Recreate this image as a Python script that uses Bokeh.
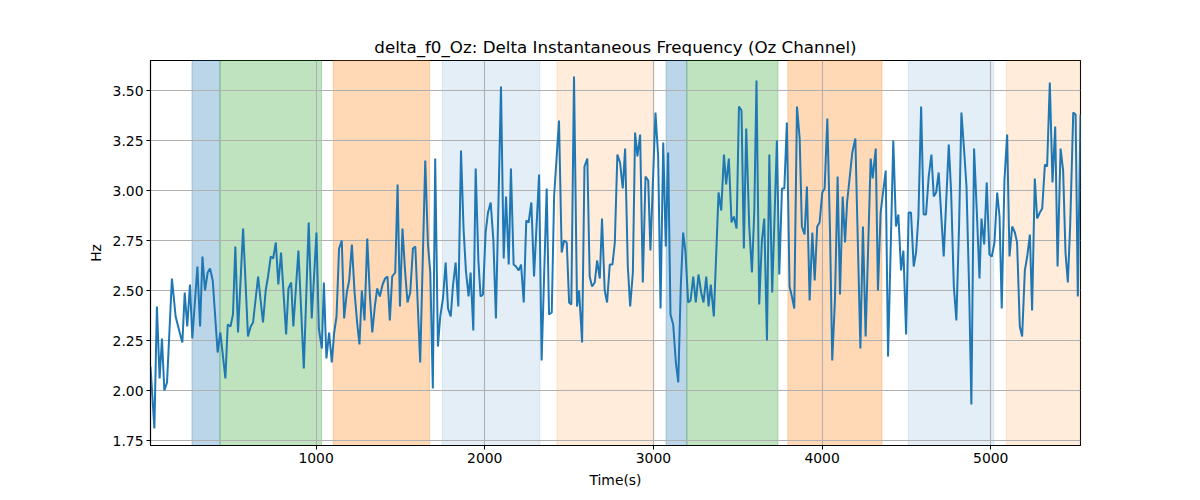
from bokeh.plotting import figure
from bokeh.models import BoxAnnotation, Range1d, FixedTicker, PrintfTickFormatter
from bokeh.embed import file_html
from bokeh.resources import INLINE

# ---- data ----
time_a = [18, 41, 56, 72, 86, 100, 116, 145, 167, 191, 207, 221, 236, 252, 266, 296, 312, 326, 341, 357,
          371, 387, 416, 432, 462, 476, 492, 507, 521, 537, 567, 596, 612, 626, 656, 685, 701, 715, 731, 745,
          761, 776, 792, 822, 836, 852, 865, 895, 927, 956]
hz_a = [2.12, 1.81, 2.42, 2.06, 2.26, 2.00, 2.04, 2.56, 2.37, 2.29, 2.24, 2.49, 2.32, 2.53, 2.26, 2.62, 2.32, 2.67, 2.50, 2.59,
        2.61, 2.55, 2.19, 2.29, 2.06, 2.33, 2.32, 2.38, 2.72, 2.29, 2.81, 2.27, 2.32, 2.34, 2.57, 2.34, 2.50, 2.57, 2.67, 2.66,
        2.74, 2.53, 2.69, 2.28, 2.51, 2.54, 2.32, 2.70, 2.11, 2.84]

time_b = [974, 1002, 1016, 1034, 1046, 1061, 1077, 1093, 1107, 1121, 1136, 1152, 1166, 1182, 1196, 1212, 1228, 1243, 1257, 1271,
          1287, 1303, 1319, 1333, 1348, 1362, 1378, 1394, 1409, 1423, 1437, 1451, 1469, 1483, 1497, 1512, 1528, 1542, 1558, 1574,
          1588, 1617, 1647, 1663, 1677, 1692, 1706, 1722, 1736, 1752, 1768, 1782, 1798, 1811, 1827, 1843, 1859, 1874, 1888, 1904]
hz_b = [2.36, 2.79, 2.31, 2.21, 2.54, 2.16, 2.29, 2.14, 2.29, 2.37, 2.71, 2.75, 2.36, 2.49, 2.55, 2.73, 2.49, 2.34, 2.23, 2.50,
        2.35, 2.76, 2.47, 2.29, 2.42, 2.51, 2.47, 2.53, 2.56, 2.57, 2.35, 2.57, 2.59, 3.03, 2.42, 2.81, 2.59, 2.44, 2.49, 2.71,
        2.72, 2.14, 3.15, 2.73, 2.59, 2.01, 3.16, 2.22, 2.37, 2.46, 2.64, 2.41, 2.37, 2.52, 2.64, 2.42, 3.20, 2.81, 2.60, 2.47]

time_c = [1916, 1932, 1946, 1962, 1975, 1989, 2005, 2019, 2035, 2051, 2066, 2080, 2096, 2112, 2126, 2142, 2155, 2171, 2185, 2201,
          2215, 2231, 2246, 2260, 2276, 2292, 2322, 2337, 2367, 2381, 2397, 2411, 2440, 2456, 2470, 2486, 2500, 2513, 2529, 2547,
          2559, 2577, 2591, 2608, 2622, 2636, 2652, 2666, 2682, 2695, 2711, 2725, 2741, 2757, 2771, 2786, 2802, 2818, 2832, 2848, 2862]
hz_c = [2.59, 2.30, 3.11, 2.65, 2.47, 2.48, 2.79, 2.89, 2.94, 2.75, 2.36, 2.90, 3.52, 2.66, 2.97, 2.63, 3.11, 2.63, 2.62, 2.60,
        2.63, 2.44, 2.85, 2.84, 2.94, 2.57, 3.08, 2.15, 3.01, 2.38, 2.39, 2.97, 3.35, 2.69, 2.75, 2.74, 2.44, 2.43, 3.57, 2.42,
        2.50, 2.24, 3.12, 3.16, 2.57, 2.52, 2.54, 2.65, 2.56, 2.86, 2.50, 2.44, 2.63, 2.63, 2.74, 3.18, 3.14, 3.01, 3.21, 2.62, 2.42]

time_d = [2878, 2891, 2905, 2921, 2937, 2953, 2969, 2982, 3012, 3028, 3042, 3058, 3073, 3087, 3101, 3117, 3133, 3147, 3162, 3176,
          3190, 3206, 3220, 3236, 3251, 3267, 3283, 3297, 3313, 3327, 3340, 3358, 3386, 3402, 3418, 3431, 3447, 3463, 3477, 3493,
          3507, 3522, 3536, 3550, 3568, 3584, 3598, 3611, 3627, 3643, 3657, 3673, 3687, 3704, 3732, 3746, 3762, 3776, 3791, 3807]
hz_d = [2.59, 3.29, 3.17, 3.28, 2.54, 3.07, 3.05, 2.70, 3.39, 3.17, 2.41, 3.24, 2.72, 3.19, 2.38, 2.33, 2.14, 2.04, 2.52, 2.79,
        2.69, 2.44, 2.45, 2.57, 2.44, 2.58, 2.49, 2.44, 2.57, 2.42, 2.53, 2.37, 2.99, 2.90, 3.18, 3.03, 3.16, 2.84, 2.87, 2.81,
        3.42, 3.40, 2.71, 3.31, 2.82, 2.59, 2.90, 3.55, 2.43, 2.75, 2.86, 2.25, 3.18, 2.49, 3.25, 2.58, 3.01, 3.01, 3.34, 2.52]

time_e = [3821, 3835, 3851, 3867, 3880, 3896, 3910, 3926, 3942, 3956, 3971, 3985, 4001, 4015, 4031, 4047, 4060, 4076, 4092, 4106,
          4122, 4136, 4148, 4179, 4197, 4227, 4242, 4258, 4288, 4300, 4318, 4331, 4347, 4377, 4391, 4422, 4438, 4452, 4468, 4482,
          4498, 4513, 4527, 4543, 4557, 4571, 4587, 4602, 4616, 4632, 4648, 4662, 4676, 4691, 4721, 4751]
hz_e = [2.47, 2.41, 3.42, 3.26, 2.82, 2.78, 3.02, 2.45, 2.79, 2.55, 2.82, 2.84, 2.99, 3.01, 3.36, 2.79, 2.15, 2.45, 3.07, 2.48,
        2.97, 2.74, 2.94, 3.19, 3.26, 2.21, 2.82, 2.27, 3.16, 3.06, 3.21, 2.50, 2.89, 3.10, 2.17, 3.25, 2.82, 2.88, 2.60, 2.70,
        2.28, 2.89, 2.89, 2.62, 2.69, 2.87, 3.42, 2.88, 2.88, 3.07, 3.18, 2.97, 2.99, 3.09, 2.67, 3.23]

time_f = [4765, 4781, 4796, 4812, 4826, 4842, 4856, 4872, 4885, 4901, 4917, 4933, 4945, 4961, 4976, 4992, 5006, 5022, 5038, 5052,
          5065, 5081, 5097, 5111, 5127, 5143, 5156, 5172, 5186, 5202, 5216, 5232, 5245, 5261, 5275, 5291, 5305, 5321, 5334, 5350,
          5366, 5382, 5396, 5414, 5429, 5443, 5457, 5471, 5489, 5503, 5516, 5532]
hz_f = [2.99, 2.52, 2.35, 2.82, 3.39, 3.20, 3.02, 2.50, 1.93, 3.21, 2.90, 2.56, 2.86, 2.73, 3.04, 2.68, 2.67, 2.74, 2.99, 2.87,
        2.41, 3.05, 3.28, 2.67, 2.82, 2.79, 2.74, 2.32, 2.27, 2.60, 2.67, 2.78, 2.40, 3.06, 2.86, 2.89, 2.91, 3.13, 3.12, 3.54,
        3.04, 3.32, 2.62, 3.21, 3.10, 2.69, 2.54, 2.83, 3.39, 3.38, 2.47, 3.38]

# shaded stage intervals (seconds)
span_start = [264, 430, 1101, 1748, 2428, 3075, 3198, 3797, 4511, 5093]
span_end = [430, 1032, 1673, 2327, 3002, 3198, 3738, 4355, 5018, 5532]
span_color = ["#1f77b4", "#2ca02c", "#ff7f0e", "#1f77b4", "#ff7f0e",
              "#1f77b4", "#2ca02c", "#ff7f0e", "#1f77b4", "#ff7f0e"]
span_alpha = [0.3, 0.3, 0.3, 0.12, 0.15, 0.3, 0.3, 0.3, 0.12, 0.15]

x_ticks = [1000, 2000, 3000, 4000, 5000]
y_ticks = [1.75, 2.00, 2.25, 2.50, 2.75, 3.00, 3.25, 3.50]

time_s = time_a + time_b + time_c + time_d + time_e + time_f
delta_hz = hz_a + hz_b + hz_c + hz_d + hz_e + hz_f

FONT = "DejaVu Sans"

p = figure(frame_width=930, frame_height=385,
           min_border_left=150, min_border_right=112, min_border_top=60, min_border_bottom=47,
           x_range=Range1d(time_s[0], time_s[-1]), y_range=Range1d(1.725, 3.65),
           output_backend="svg", toolbar_location=None,
           title="delta_f0_Oz: Delta Instantaneous Frequency (Oz Channel)")

p.background_fill_color = "white"
p.border_fill_color = "white"
p.outline_line_color = "black"
p.outline_line_width = 1.1

for s, e, c, a in zip(span_start, span_end, span_color, span_alpha):
    p.add_layout(BoxAnnotation(left=s, right=e, fill_color=c, fill_alpha=a,
                               line_color=c, line_alpha=a, line_width=1, level="image"))

p.line(time_s, delta_hz, line_color="#1f77b4", line_width=2)

p.title.align = "center"
p.title.text_font = FONT
p.title.text_font_size = "16.7px"
p.title.text_font_style = "normal"
p.title.text_color = "black"
p.title.standoff = 7

p.xaxis.ticker = FixedTicker(ticks=x_ticks)
p.yaxis.ticker = FixedTicker(ticks=y_ticks)
p.yaxis.formatter = PrintfTickFormatter(format="%.2f")
p.xaxis.axis_label = "Time(s)"
p.yaxis.axis_label = "Hz"

for ax in (p.xaxis, p.yaxis):
    ax.axis_label_text_font = FONT
    ax.axis_label_text_font_size = "13.9px"
    ax.axis_label_text_font_style = "normal"
    ax.axis_label_text_color = "black"
    ax.major_label_text_font = FONT
    ax.major_label_text_font_size = "13.9px"
    ax.major_label_text_color = "black"
    ax.major_tick_in = 0
    ax.major_tick_out = 4
    ax.major_tick_line_color = "black"
    ax.minor_tick_line_color = None
    ax.axis_line_color = "black"
    ax.axis_line_width = 1.1
    ax.major_label_standoff = 3

p.xaxis.axis_label_standoff = 6
p.yaxis.axis_label_standoff = 6

p.grid.grid_line_color = "#b0b0b0"
p.grid.grid_line_width = 1.1

open("out.html", "w").write(file_html(p, INLINE))
